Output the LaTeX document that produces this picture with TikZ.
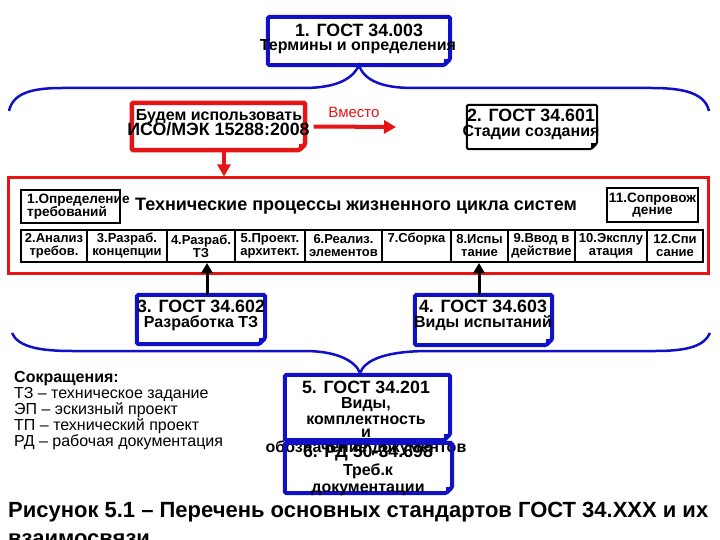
\documentclass[tikz,border=0pt]{standalone}
\usepackage{fontspec}
\setmainfont{Liberation Sans}
\usepackage{graphicx}
\usetikzlibrary{arrows.meta}
\definecolor{bblue}{RGB}{16,16,200}
\definecolor{rred}{RGB}{230,20,20}
\newcommand\zl[1]{\makebox[0pt]{#1}}
\newcommand\dogframe[3]{%
  \draw[#2,line width=#3,rounded corners=1.5pt] (#1.north west) -- (#1.north east) -- ([yshift=6pt]#1.south east) -- ([xshift=-6pt]#1.south east) -- (#1.south west) -- cycle;
  \fill[#2] ([yshift=6pt]#1.south east) -- ([xshift=-6pt]#1.south east) -- ([xshift=-6pt,yshift=6pt]#1.south east) -- cycle;}
\begin{document}
\begin{tikzpicture}[x=1pt,y=-1pt,
  bx/.style 2 args={minimum width=#1pt,minimum height=#2pt,inner sep=0pt},
  tb/.style={anchor=base,inner sep=0pt},
  tbw/.style={anchor=base west,inner sep=0pt},
  big/.style={font=\bfseries\fontsize{17.8}{18}\selectfont},
  mid/.style={font=\bfseries\fontsize{16}{16}\selectfont},
  sm/.style={font=\bfseries\fontsize{13}{13}\selectfont},
  smb/.style={font=\bfseries\fontsize{13.6}{13}\selectfont},
  cell/.style={draw,line width=2pt,minimum width=#1pt,minimum height=32pt,inner sep=0pt,align=center,sm},
  brace/.style={draw=bblue,line width=2.5pt},
  rarrow/.style={draw=rred,line width=4pt,-{Triangle[length=12pt,width=13pt]}},
  barrow/.style={draw=black,line width=3pt,-{Triangle[length=10pt,width=11pt]}}]
\useasboundingbox (0,0) rectangle (720,540);
\fill[white] (0,0) rectangle (720,540);

% box 1
\node[bx={182}{48}] (g1) at (359,41) {};
\dogframe{g1}{bblue}{4pt}
\node[tb,big] (g1a) at (359,37) {1. ГОСТ 34.003};
\node[tb,mid] (g1b) at (358,51) {Термины и определения};

% top brace
\coordinate (tl) at (9,111);
\coordinate (tr) at (709,111);
\draw[brace] (tl) .. controls (13,93) and (32,88) .. (62,88) -- (303,88)
  .. controls (335,88) and (352,80) .. (g1.south)
  .. controls (364,80) and (381,88) .. (413,88) -- (652,88)
  .. controls (686,88) and (705,94) .. (tr);

% red box
\node[bx={173}{47}] (rb) at (218.5,126.5) {};
\dogframe{rb}{rred}{4.5pt}
\node[tb,mid] (rba) at (219,121) {Будем использовать};
\node[tb,big] (rbb) at (218.5,136) {ИСО/МЭК 15288:2008};

% box 2
\node[bx={130}{44}] (g2) at (532,127) {};
\dogframe{g2}{black}{2pt}
\node[tb,big] (g2a) at (531,122) {2. ГОСТ 34.601};
\node[tb,mid] (g2b) at (531,137) {Стадии создания};

% arrow "Вместо"
\coordinate (va) at (396,127);
\draw[rarrow] ([xshift=8.5pt]rb.east) -- (va);
\node[tb,font=\fontsize{15}{15}\selectfont,text=rred] (vm) at (354,118) {Вместо};

% big process frame
\node[bx={700}{95},draw=rred,line width=3pt] (proc) at (358,225.5) {};
\draw[rarrow,line width=3.5pt] ([xshift=5.5pt]rb.south) -- ([xshift=5.5pt]rb.south |- proc.north);

\node[bx={99}{33},draw,line width=2pt] (p1) at (70.5,206.5) {};
\node[tbw,smb] (p1a) at (27,204) {1.Определение};
\node[tbw,smb] (p1b) at (27,217) {требований};
\node[tb,font=\bfseries\fontsize{18}{18}\selectfont] (ttl) at (356,211) {Технические процессы жизненного цикла систем};
\node[bx={91}{34},draw,line width=2pt,align=center,smb] (p11) at (652.5,205) {\zl{11.Сопровож}\\[-1pt]\zl{дение}};

\node[cell=66] (c2) at (54,246) {\zl{2.Анализ}\\\zl{требов.}};
\node[cell=80] (c3) at (127,246) {\zl{3.Разраб.}\\\zl{концепции}};
\node[cell=68] (c4) at (201,246) {\zl{4.Разраб.}\\\zl{ТЗ}};
\node[cell=70] (c5) at (270,246) {\zl{5.Проект.}\\\zl{архитект.}};
\node[cell=77] (c6) at (343.5,246) {\zl{6.Реализ.}\\\zl{элементов}};
\node[cell=69] (c7) at (416.5,246) {\zl{7.Сборка}\\\zl{\strut}};
\node[cell=57] (c8) at (479.5,246) {\zl{8.Испы}\\\zl{тание}};
\node[cell=67] (c9) at (541.5,246) {\zl{9.Ввод в}\\\zl{действие}};
\node[cell=72] (c10) at (611,246) {\zl{10.Эксплу}\\\zl{атация}};
\node[cell=56] (c12) at (675,246) {\zl{12.Спи}\\\zl{сание}};

% box 3
\node[bx={128}{49}] (g3) at (201,319.5) {};
\dogframe{g3}{bblue}{4pt}
\node[tb,big] (g3a) at (201,312) {3. ГОСТ 34.602};
\node[tb,mid] (g3b) at (201,327) {Разработка ТЗ};
\draw[barrow] ([xshift=6pt]g3.north) -- ([xshift=6pt]g3.north |- c4.south);

% box 4
\node[bx={137}{50}] (g4) at (483.5,320) {};
\dogframe{g4}{bblue}{4pt}
\node[tb,big] (g4a) at (483,312) {4. ГОСТ 34.603};
\node[tb,mid] (g4b) at (483,327) {Виды испытаний};
\draw[barrow] ([xshift=-4.5pt]g4.north) -- ([xshift=-4.5pt]g4.north |- c8.south);

% bottom brace
\coordinate (bl) at (12,333);
\coordinate (bt) at (360,373);
\coordinate (br) at (710,333);
\draw[brace] (bl) .. controls (18,347) and (40,351) .. (72,351) -- (305,351)
  .. controls (335,351) and (355,360) .. (bt)
  .. controls (365,360) and (385,351) .. (430,351) -- (655,351)
  .. controls (688,351) and (704,346) .. (br);

% legend
\node[anchor=north west,inner sep=0pt,align=left,font=\fontsize{16}{13.6}\selectfont] (leg) at (14,371.5)
  {\textbf{Сокращения:}\\ТЗ – техническое задание\\ЭП – эскизный проект\\ТП – технический проект\\РД – рабочая документация};

% box 5
\node[bx={165}{65}] (g5) at (367.5,407.5) {};
\dogframe{g5}{bblue}{4pt}
\node[tb,big] (g5a) at (366,393) {5. ГОСТ 34.201};
\node[tb,mid] (g5b) at (366,408) {Виды,};
\node[tb,mid] (g5c) at (366,424) {комплектность};
\node[tb,mid] (g5d) at (366,437) {и};
\node[tb,mid] (g5e) at (366,452) {обозначение документов};

% box 6
\node[bx={167}{50}] (g6) at (368.5,468) {};
\dogframe{g6}{bblue}{4pt}
\node[tb,big] (g6a) at (368,457) {6. РД 50-34.698};
\node[tb,mid] (g6b) at (368,475) {Треб.к};
\node[tb,mid] (g6c) at (368,492) {документации};

% caption
\node[anchor=base west,inner sep=0pt] (cap) at (8,517)
  {\resizebox{700pt}{\height}{\fontsize{22}{28}\selectfont\bfseries\begin{tabular}[t]{@{}l@{}}Рисунок 5.1 – Перечень основных стандартов ГОСТ 34.XXX и их\\взаимосвязи\end{tabular}}};
\end{tikzpicture}
\end{document}
